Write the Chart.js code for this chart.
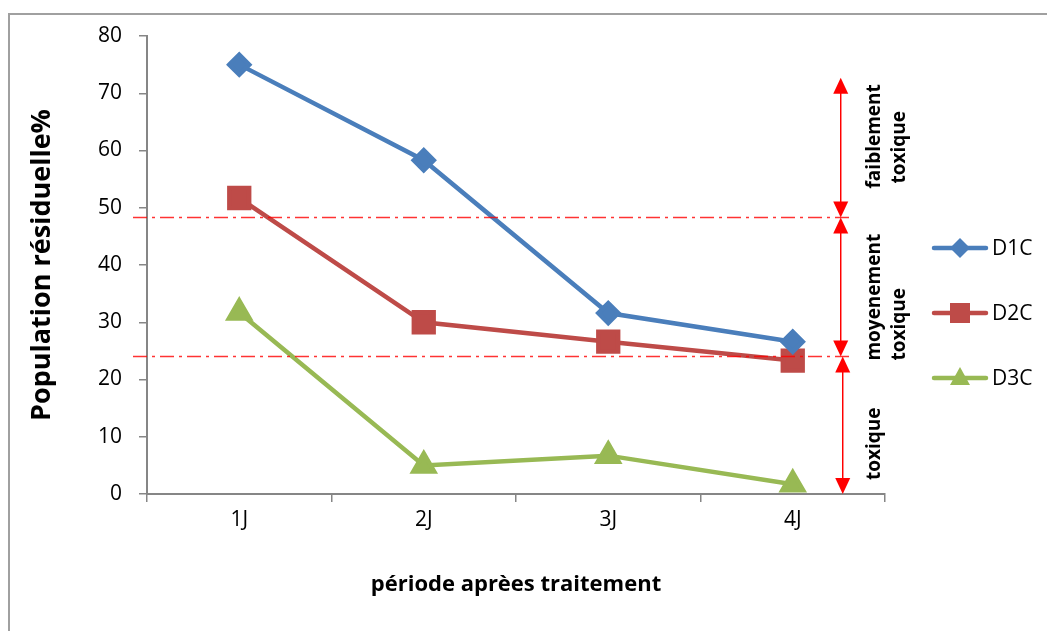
<!DOCTYPE html>
<html>
<head>
<meta charset="utf-8">
<script src="https://cdn.jsdelivr.net/npm/chart.js@4/dist/chart.umd.min.js"></script>
<style>
  html, body { margin: 0; padding: 0; background: #fff; }
  #wrap { width: 1047px; height: 631px; }
</style>
</head>
<body>
<div id="wrap"><canvas id="lineChart"></canvas></div>
<script>
// data
var categories = ["1J", "2J", "3J", "4J"];
var d1c = [75, 58.3, 31.6, 26.6];
var d2c = [51.7, 30, 26.6, 23.3];
var d3c = [31.7, 5, 6.7, 1.7];
var seuils = [48.3, 24];          // red dash-dot limits
var zoneTop = 72.7;               // top of the upper arrow
var zoneLabels = [["faiblement", "toxique"], ["moyenement", "toxique"], ["toxique"]];
var yTicks = [0, 10, 20, 30, 40, 50, 60, 70, 80];

var FONT = "'Open Sans', sans-serif";
var AXIS = '#868686';

// frame round the chart
var framePlugin = {
  id: 'frame',
  beforeDraw: function (chart) {
    var ctx = chart.ctx;
    ctx.save();
    ctx.strokeStyle = '#a0a0a0';
    ctx.lineWidth = 2;
    ctx.beginPath();
    ctx.moveTo(9, 640);
    ctx.lineTo(9, 14);
    ctx.lineTo(1060, 14);
    ctx.stroke();
    ctx.restore();
  }
};

function arrowHead(ctx, x, y, dir) {
  // dir = -1 points up, 1 points down
  ctx.beginPath();
  ctx.moveTo(x, y);
  ctx.lineTo(x - 7.5, y - dir * 16);
  ctx.lineTo(x + 7.5, y - dir * 16);
  ctx.closePath();
  ctx.fill();
}

// toxicity limits, arrows and zone names
var zonesPlugin = {
  id: 'zones',
  afterDatasetsDraw: function (chart) {
    var ctx = chart.ctx, xs = chart.scales.x, ys = chart.scales.y;
    var ax = xs.getPixelForValue(3.26);
    ctx.save();
    ctx.strokeStyle = 'rgba(255,0,0,0.8)';
    ctx.lineWidth = 1.5;
    ctx.setLineDash([14, 5, 3, 5]);
    seuils.forEach(function (s) {
      var py = ys.getPixelForValue(s);
      ctx.beginPath();
      ctx.moveTo(chart.chartArea.left - 14, py);
      ctx.lineTo(ax + 10, py);
      ctx.stroke();
    });
    ctx.setLineDash([]);
    var bounds = [zoneTop].concat(seuils).concat([0]);
    // bottom end of each rotated text line, relative to the zone bottom
    var textBottom = [[-29, -34], [4, 4], [-14]];
    ctx.strokeStyle = '#ff0000';
    ctx.fillStyle = '#ff0000';
    ctx.lineWidth = 1.5;
    for (var i = 0; i < bounds.length - 1; i++) {
      var y1 = ys.getPixelForValue(bounds[i]);
      var y2 = ys.getPixelForValue(bounds[i + 1]);
      var x = ax + (i === 2 ? 2 : 0);
      ctx.beginPath();
      ctx.moveTo(x, y1 + 4);
      ctx.lineTo(x, y2 - 4);
      ctx.stroke();
      arrowHead(ctx, x, y1, -1);
      arrowHead(ctx, x, y2, 1);
      // zone names, rotated
      var lines = zoneLabels[i];
      ctx.save();
      ctx.fillStyle = '#000';
      ctx.font = 'bold 19px ' + FONT;
      ctx.textAlign = 'left';
      ctx.textBaseline = 'middle';
      for (var k = 0; k < lines.length; k++) {
        ctx.save();
        ctx.translate(ax + 34 + k * 25, y2 + textBottom[i][k]);
        ctx.rotate(-Math.PI / 2);
        ctx.fillText(lines[k], 0, 0);
        ctx.restore();
      }
      ctx.restore();
    }
    ctx.restore();
  }
};

function drawMarker(ctx, style, x, y, color) {
  ctx.fillStyle = color;
  ctx.beginPath();
  if (style === 'rectRot') {
    ctx.moveTo(x, y - 10); ctx.lineTo(x + 10, y); ctx.lineTo(x, y + 10); ctx.lineTo(x - 10, y);
  } else if (style === 'rect') {
    ctx.rect(x - 10, y - 10, 20, 20);
  } else {
    ctx.moveTo(x, y - 11); ctx.lineTo(x + 10, y + 7); ctx.lineTo(x - 10, y + 7);
  }
  ctx.closePath();
  ctx.fill();
}

// legend on the right: line with marker, then name
var legendPlugin = {
  id: 'sideLegend',
  afterDraw: function (chart) {
    var ctx = chart.ctx;
    var lx = chart.chartArea.right + 49;
    ctx.save();
    chart.data.datasets.forEach(function (ds, i) {
      var y = 248 + i * 65;
      ctx.strokeStyle = ds.borderColor;
      ctx.lineWidth = 4.5;
      ctx.lineCap = 'round';
      ctx.beginPath();
      ctx.moveTo(lx, y);
      ctx.lineTo(lx + 52, y);
      ctx.stroke();
      drawMarker(ctx, ds.pointStyle, lx + 26, y, ds.backgroundColor);
      ctx.fillStyle = '#000';
      ctx.font = '21px ' + FONT;
      ctx.textBaseline = 'middle';
      ctx.fillText(ds.label, lx + 58, y + 1);
    });
    ctx.restore();
  }
};

var ctxL = document.getElementById('lineChart').getContext('2d');
var myLineChart = new Chart(ctxL, {
  type: 'line',
  data: {
    labels: categories,
    datasets: [{
        label: 'D1C',
        data: d1c,
        borderColor: '#4A7EBB',
        backgroundColor: '#4A7EBB',
        pointStyle: 'rectRot',
        pointRadius: 10,
        borderWidth: 4.5
      },
      {
        label: 'D2C',
        data: d2c,
        borderColor: '#BE4B48',
        backgroundColor: '#BE4B48',
        pointStyle: 'rect',
        pointRadius: 14,
        borderWidth: 4.5
      },
      {
        label: 'D3C',
        data: d3c,
        borderColor: '#98B954',
        backgroundColor: '#98B954',
        pointStyle: 'triangle',
        pointRadius: 12,
        borderWidth: 4.5
      }
    ]
  },
  options: {
    responsive: true,
    maintainAspectRatio: false,
    animation: false,
    layout: { padding: { top: 36, right: 162, left: 0, bottom: 0 } },
    plugins: {
      legend: { display: false },
      tooltip: { enabled: false }
    },
    elements: {
      line: { tension: 0 },
      point: { borderWidth: 0 }
    },
    scales: {
      x: {
        type: 'category',
        offset: true,
        afterFit: function (s) { s.height = 137; },
        grid: { offset: true, drawOnChartArea: false, tickLength: 8, color: AXIS, lineWidth: 1.5 },
        border: { color: AXIS, width: 2 },
        ticks: { color: '#000', font: { size: 21, family: FONT }, padding: 5 },
        title: {
          display: true,
          text: 'période aprèes traitement',
          color: '#000',
          font: { size: 22, weight: 'bold', family: FONT },
          padding: { top: 0, bottom: 33 }
        }
      },
      y: {
        min: 0,
        max: 80,
        afterFit: function (s) { s.width = 147; },
        afterBuildTicks: function (s) { s.ticks = yTicks.map(function (v) { return { value: v }; }); },
        grid: { drawOnChartArea: false, tickLength: 8, color: AXIS, lineWidth: 1.5 },
        border: { color: AXIS, width: 2 },
        ticks: { color: '#000', font: { size: 21, family: FONT }, padding: 17 },
        title: {
          display: true,
          text: 'Population résiduelle%',
          color: '#000',
          font: { size: 27, weight: 'bold', family: FONT },
          padding: { top: 26, bottom: 0 }
        }
      }
    }
  },
  plugins: [framePlugin, zonesPlugin, legendPlugin]
});
</script>
</body>
</html>
